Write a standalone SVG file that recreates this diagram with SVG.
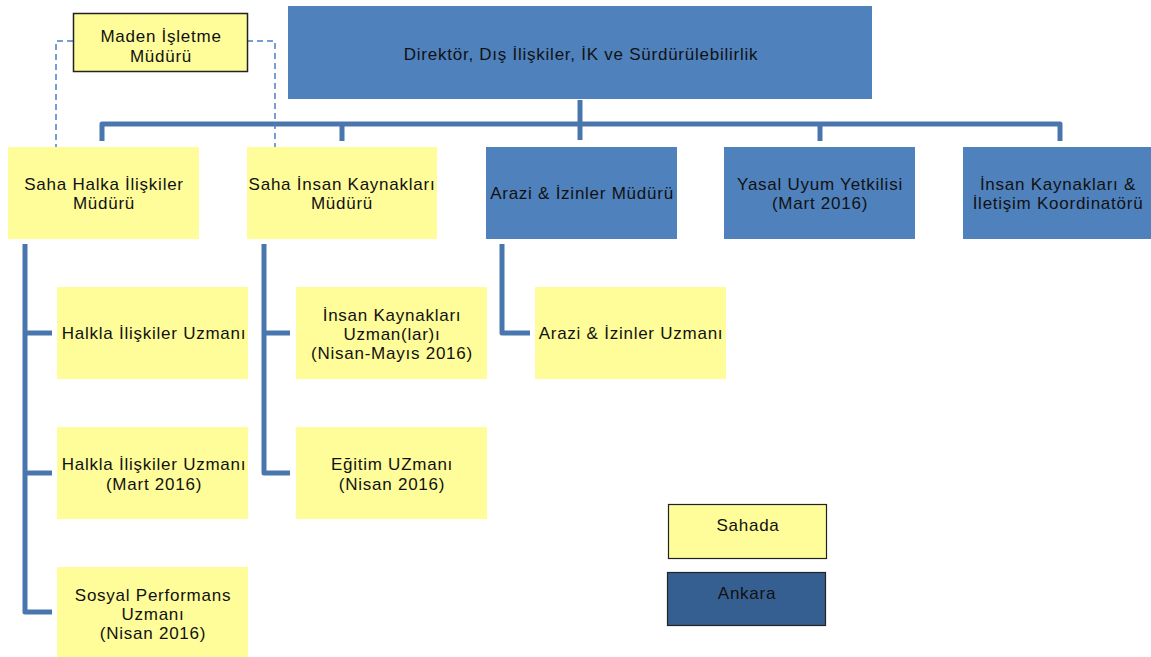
<svg xmlns="http://www.w3.org/2000/svg" width="1151" height="657" viewBox="0 0 1151 657">
<style>
.y{fill:#FFFD99}
.b{fill:#4F81BD}
.t{font-family:"Liberation Sans",Arial,sans-serif;font-size:17px;letter-spacing:0.75px;fill:#111;text-anchor:middle}
.c{fill:none;stroke:#4A76AE;stroke-width:5;stroke-linejoin:round}
.d{fill:none;stroke:#4A7EC6;stroke-width:1.5;stroke-dasharray:6,4}
</style>
<rect width="1151" height="657" fill="#fff"/>
<g id="connectors">
<path class="c" d="M580,100 V140 M102,141 V124 H1060 V141 M342,124 V141 M820,124 V141"/>
<path class="c" d="M25,244 V612 H52 M25,333 H52 M25,473 H52"/>
<path class="c" d="M264,244 V473 H290 M264,333 H290"/>
<path class="c" d="M502,244 V333 H530"/>
<path class="d" d="M73,41 H56 V152 H42 M247,41 H275 V152 H258"/>
</g>
<g id="n-director"><rect class="b" x="288" y="6" width="584" height="93"/><text class="t" x="581" y="60">Direktör, Dış İlişkiler, İK ve Sürdürülebilirlik</text></g>
<g id="n-maden"><rect class="y" x="73.5" y="13.5" width="174" height="58" stroke="#222" stroke-width="1.5"/><text class="t" x="161" y="42">Maden İşletme</text><text class="t" x="161" y="62">Müdürü</text></g>
<g id="n-sahahalka"><rect class="y" x="8" y="147" width="191" height="92"/><text class="t" x="104" y="190">Saha Halka İlişkiler</text><text class="t" x="104" y="209">Müdürü</text></g>
<g id="n-sahainsan"><rect class="y" x="247" y="147" width="190" height="92"/><text class="t" x="342" y="190">Saha İnsan Kaynakları</text><text class="t" x="342" y="209">Müdürü</text></g>
<g id="n-arazi"><rect class="b" x="486" y="147" width="191" height="92"/><text class="t" x="582" y="199">Arazi &amp; İzinler Müdürü</text></g>
<g id="n-yasal"><rect class="b" x="724" y="147" width="191" height="92"/><text class="t" x="820" y="190">Yasal Uyum Yetkilisi</text><text class="t" x="820" y="209">(Mart 2016)</text></g>
<g id="n-ikiletisim"><rect class="b" x="963" y="147" width="190" height="92"/><text class="t" x="1058" y="190">İnsan Kaynakları &amp;</text><text class="t" x="1058" y="209">İletişim Koordinatörü</text></g>
<g id="n-halkla1"><rect class="y" x="57" y="287" width="191" height="92"/><text class="t" x="154" y="339">Halkla İlişkiler Uzmanı</text></g>
<g id="n-halkla2"><rect class="y" x="57" y="427" width="191" height="92"/><text class="t" x="154" y="470">Halkla İlişkiler Uzmanı</text><text class="t" x="154" y="490">(Mart 2016)</text></g>
<g id="n-sosyal"><rect class="y" x="57" y="567" width="191" height="90"/><text class="t" x="153" y="601">Sosyal Performans</text><text class="t" x="153" y="620">Uzmanı</text><text class="t" x="153" y="639">(Nisan 2016)</text></g>
<g id="n-ikuzman"><rect class="y" x="296" y="287" width="191" height="92"/><text class="t" x="392" y="321">İnsan Kaynakları</text><text class="t" x="392" y="340">Uzman(lar)ı</text><text class="t" x="392" y="359">(Nisan-Mayıs 2016)</text></g>
<g id="n-egitim"><rect class="y" x="296" y="427" width="191" height="92"/><text class="t" x="392" y="470">Eğitim UZmanı</text><text class="t" x="392" y="490">(Nisan 2016)</text></g>
<g id="n-araziuzman"><rect class="y" x="535" y="287" width="191" height="92"/><text class="t" x="631" y="339">Arazi &amp; İzinler Uzmanı</text></g>
<g id="legend-sahada"><rect class="y" x="668.5" y="504.5" width="158" height="54" stroke="#222" stroke-width="1.2"/><text class="t" x="748" y="531">Sahada</text></g>
<g id="legend-ankara"><rect x="667.5" y="572.5" width="158" height="53" fill="#365F91" stroke="#222" stroke-width="1.2"/><text class="t" x="747" y="599">Ankara</text></g>
</svg>
